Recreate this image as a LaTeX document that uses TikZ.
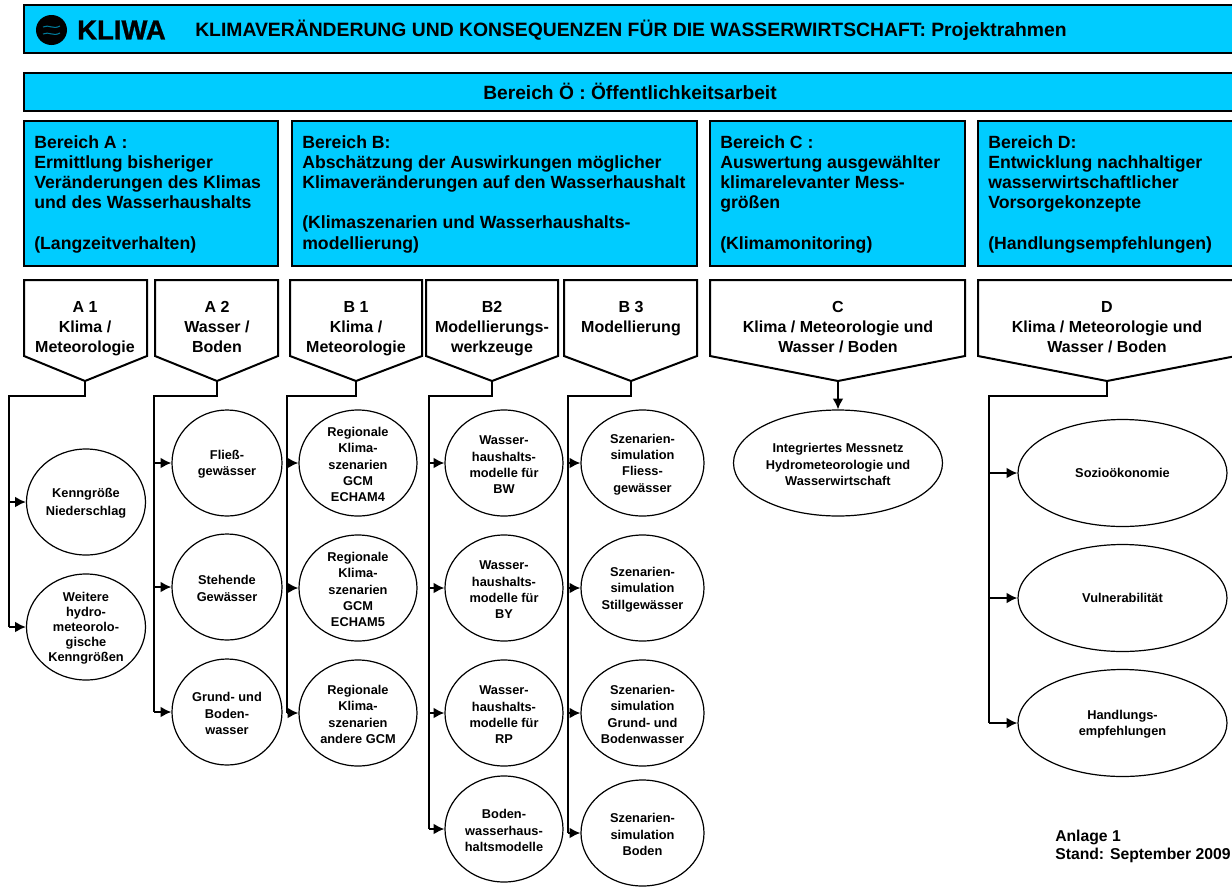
\documentclass[tikz,border=0pt]{standalone}
\usepackage{fontspec}
\setmainfont{Liberation Sans}
\newfontfamily\logofont[FakeBold=1]{Liberation Sans Bold}
\usetikzlibrary{shapes.geometric,arrows.meta}
\definecolor{kliwa}{HTML}{00CCFF}
\tikzset{
  bar/.style={draw=black,line width=1.5pt,fill=kliwa},
  head/.style={font=\fontsize{13.25}{15.15}\selectfont\bfseries,align=left,anchor=north west,inner sep=0pt},
  penta/.style={draw=black,line width=1.5pt,fill=white},
  ptext/.style={font=\fontsize{12}{15.1}\selectfont\bfseries,align=center,anchor=north,inner sep=0pt},
  oval/.style={draw=black,line width=0.9pt,ellipse,inner sep=-4pt,font=\fontsize{9.6}{12.2}\selectfont\bfseries,align=center},
  tight/.style={font=\fontsize{9.6}{11.2}\selectfont\bfseries},
  bus/.style={draw=black,line width=1.4pt},
  arr/.style={bus,-{Latex[length=8pt,width=8pt]}}
}
\newcommand{\pent}[6]{% name x1 x2 tipx ytext text
  \draw[penta] (#2,280) -- (#3,280) -- (#3,356) -- (#4,381) -- (#2,356) -- cycle;
  \coordinate (#1) at (#4,381);
  \node[ptext] at (#4,#5) {#6};
}
\newcommand{\ov}[6]{% name cx cy rx ry text
  \node[oval,minimum width=#4*1.5pt,minimum height=#5*1.5pt] (#1) at (#2,#3) {\rule{0pt}{9.2pt}#6};
}
\newcommand{\ovs}[6]{% single-line ellipse
  \node[oval,minimum width=#4*1.5pt,minimum height=#5*1.5pt] (#1) at (#2,#3) {#6};
}
\begin{document}
\begin{tikzpicture}[x=0.75pt,y=-0.75pt]
\useasboundingbox (0,0) rectangle (1232,886);
\clip (0,0) rectangle (1232,886);
% top bars
\draw[bar] (24,5) rectangle (1240,53);
\draw[bar] (24,73) rectangle (1240,111);
\node[inner sep=0pt,font=\fontsize{14.5}{15}\selectfont\bfseries,anchor=west] (title) at (195,30) {KLIMAVERÄNDERUNG UND KONSEQUENZEN FÜR DIE WASSERWIRTSCHAFT: Projektrahmen};
\node[inner sep=0pt,font=\fontsize{14.4}{15}\selectfont\bfseries] (oe) at (630,91.5) {Bereich Ö : Öffentlichkeitsarbeit};
% logo
\fill[black] (51.5,30) circle[x radius=15.5,y radius=15];
\draw[kliwa!60!black,line width=0.8pt] (43,27) .. controls (49,24) and (53,30) .. (60,26);
\draw[kliwa!60!black,line width=0.8pt] (43,34) .. controls (49,31) and (53,37) .. (60,33);
\node[inner sep=0pt,font=\fontsize{20.6}{21}\logofont,anchor=west] (logo) at (77,30) {KLIWA};
% Bereich boxes
\draw[bar] (24,121) rectangle (278,266);
\draw[bar] (292,121) rectangle (697,266);
\draw[bar] (710,121) rectangle (965,266);
\draw[bar] (978,121) rectangle (1240,266);
\node[head] (ba) at (34,135) {Bereich A :\\Ermittlung bisheriger\\Veränderungen des Klimas\\und des Wasserhaushalts\\[15.15pt](Langzeitverhalten)};
\node[head] (bb) at (302,135) {Bereich B:\\Abschätzung der Auswirkungen möglicher\\Klimaveränderungen auf den Wasserhaushalt\\[15.15pt](Klimaszenarien und Wasserhaushalts-\\modellierung)};
\node[head] (bc) at (720,135) {Bereich C :\\Auswertung ausgewählter\\klimarelevanter Mess-\\größen\\[15.15pt](Klimamonitoring)};
\node[head] (bd) at (988,135) {Bereich D:\\Entwicklung nachhaltiger\\wasserwirtschaftlicher\\Vorsorgekonzepte\\[15.15pt](Handlungsempfehlungen)};
% pentagons
\pent{pA}{24}{147}{85}{301}{A 1\\Klima /\\Meteorologie}
\pent{pAb}{155}{278}{217}{301}{A 2\\Wasser /\\Boden}
\pent{pB}{290}{422}{356}{301}{B 1\\Klima /\\Meteorologie}
\pent{pBb}{426}{558}{492}{301}{B2\\Modellierungs-\\werkzeuge}
\pent{pBc}{564}{697}{631}{301}{B 3\\Modellierung}
\pent{pC}{710}{965}{838}{301}{C\\Klima / Meteorologie und\\Wasser / Boden}
\pent{pD}{978}{1236}{1107}{301}{D\\Klima / Meteorologie und\\Wasser / Boden}
% ellipses
\ov{a1}{86}{502}{59.5}{53}{Kenngröße\\[1pt]Niederschlag}
\node[oval,tight,minimum width=59.5*1.5pt,minimum height=53*1.5pt] (a2) at (86,627) {\rule{0pt}{9.2pt}Weitere\\hydro-\\meteorolo-\\gische\\Kenngrößen};
\ov{b1}{227}{463}{55}{53}{Fließ-\\gewässer}
\ov{b2}{227}{587}{55}{53}{Stehende\\Gewässer}
\ov{b3}{227}{712}{55}{53}{Grund- und\\Boden-\\wasser}
\ov{c1}{358}{463}{59}{53}{Regionale\\Klima-\\szenarien\\GCM\\ECHAM4}
\ov{c2}{358}{588}{59}{53}{Regionale\\Klima-\\szenarien\\GCM\\ECHAM5}
\ov{c3}{358}{713}{59}{53}{Regionale\\Klima-\\szenarien\\andere GCM}
\ov{d1}{504}{463}{59}{53}{Wasser-\\haushalts-\\modelle für\\BW}
\ov{d2}{504}{588}{59}{53}{Wasser-\\haushalts-\\modelle für\\BY}
\ov{d3}{504}{713}{59}{53}{Wasser-\\haushalts-\\modelle für\\RP}
\ov{d4}{504}{829}{59}{53}{Boden-\\wasserhaus-\\haltsmodelle}
\ov{e1}{642.5}{463}{61.5}{53}{Szenarien-\\simulation\\Fliess-\\gewässer}
\ov{e2}{642.5}{588}{61.5}{53}{Szenarien-\\simulation\\Stillgewässer}
\ov{e3}{642.5}{713}{61.5}{53}{Szenarien-\\simulation\\Grund- und\\Bodenwasser}
\ov{e4}{642.5}{833}{61.5}{53}{Szenarien-\\simulation\\Boden}
\ov{f1}{838}{463}{104.5}{53}{Integriertes Messnetz\\Hydrometeorologie und\\Wasserwirtschaft}
\ovs{g1}{1122.5}{473}{104.5}{53.5}{Sozioökonomie}
\ovs{g2}{1122.5}{598}{104.5}{53.5}{Vulnerabilität}
\ov{g3}{1122.5}{723}{104.5}{53.5}{Handlungs-\\empfehlungen}
% connectors
\coordinate (busA) at (9,396);
\coordinate (busAb) at (154,396);
\coordinate (busB) at (287,396);
\coordinate (busBb) at (429,396);
\coordinate (busBc) at (568,396);
\coordinate (busD) at (989,396);
\draw[bus] (pA) |- (busA) -- (busA |- a2);
\draw[bus] (pAb) |- (busAb) -- (busAb |- b3);
\draw[bus] (pB) |- (busB) -- (busB |- c3);
\draw[bus] (pBb) |- (busBb) -- (busBb |- d4);
\draw[bus] (pBc) |- (busBc) -- (busBc |- e4);
\draw[bus] (pD) |- (busD) -- (busD |- g3);
\draw[arr] (pC) -- (f1.north);
\foreach \t/\b in {a1/busA,a2/busA,b1/busAb,b2/busAb,b3/busAb,c1/busB,c2/busB,c3/busB,d1/busBb,d2/busBb,d3/busBb,d4/busBb,e1/busBc,e2/busBc,e3/busBc,e4/busBc,g1/busD,g2/busD,g3/busD}
  \draw[arr] (\b |- \t) -- (\t.west);
% note
\node[inner sep=0pt,anchor=north west,align=left,font=\fontsize{11.8}{13.6}\selectfont\bfseries] (note) at (1055,830) {Anlage 1\\Stand: September 2009};
\end{tikzpicture}
\end{document}
